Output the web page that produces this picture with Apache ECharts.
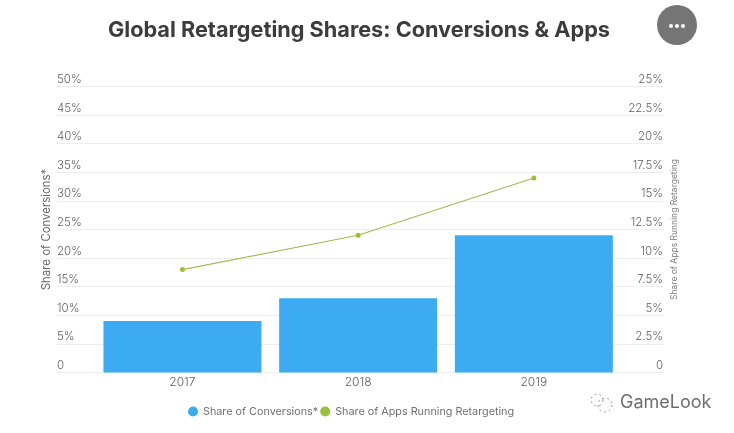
<!DOCTYPE html>
<html>
<head>
<meta charset="utf-8">
<title>Global Retargeting Shares</title>
<style>
  html, body { margin: 0; padding: 0; background: #fff; }
  #chart { width: 734px; height: 433px; }
</style>
<script src="https://cdn.jsdelivr.net/npm/echarts@6/dist/echarts.min.js"></script>
</head>
<body>
<div id="chart"></div>
<script>
var years = [2017, 2018, 2019];
var conversions = [9, 13, 24];
var appsRetargeting = [9, 12, 17];

var conversionsName = 'Share of Conversions*';
var appsName = 'Share of Apps Running Retargeting';
var FONT = 'Inter, "Open Sans", sans-serif';

var chart = echarts.init(document.getElementById('chart'));

function pairs(values) {
  return values.map(function (v, i) { return [years[i], v]; });
}

chart.setOption({
  animation: false,
  backgroundColor: '#ffffff',
  textStyle: { fontFamily: FONT },
  title: {
    text: 'Global Retargeting Shares: Conversions & Apps',
    left: 354,
    top: 14,
    textAlign: 'center',
    textStyle: { fontFamily: FONT, fontSize: 21.7, fontWeight: 700, color: '#3c3c3c' }
  },
  legend: {
    left: 183,
    top: 401,
    itemWidth: 10,
    itemHeight: 10,
    itemGap: 2,
    icon: 'circle',
    textStyle: { fontFamily: FONT, fontSize: 10.8, color: '#707070' },
    data: [conversionsName, appsName]
  },
  grid: { left: 57, right: 71, top: 86.5, bottom: 60.5 },
  xAxis: {
    type: 'value',
    min: 2016.286,
    max: 2019.735,
    splitLine: { show: false },
    axisTick: { show: false },
    axisLine: { show: true, lineStyle: { color: '#eeeeee' } },
    axisLabel: {
      customValues: years,
      formatter: function (v) { return String(v); },
      fontSize: 12,
      fontWeight: 300,
      color: '#606060',
      margin: 4
    }
  },
  yAxis: [
    {
      type: 'value',
      min: 0,
      max: 50,
      interval: 5,
      name: conversionsName,
      nameLocation: 'middle',
      nameGap: 5,
      nameMoveOverlap: false,
      nameTextStyle: { fontFamily: FONT, fontSize: 11.4, color: '#6a6a6a' },
      axisLine: { show: false },
      axisTick: { show: false },
      splitLine: { lineStyle: { color: '#eeeeee' } },
      axisLabel: {
        inside: true,
        margin: 0,
        verticalAlign: 'bottom',
        lineHeight: 14,
        fontSize: 11.5,
        fontWeight: 300,
        color: '#606060',
        formatter: function (v) { return v === 0 ? '0' : v + '%'; }
      }
    },
    {
      type: 'value',
      min: 0,
      max: 25,
      interval: 2.5,
      name: appsName,
      nameLocation: 'middle',
      nameGap: 7,
      nameMoveOverlap: false,
      nameTextStyle: { fontFamily: FONT, fontSize: 8.5, color: '#7a7a7a' },
      axisLine: { show: false },
      axisTick: { show: false },
      splitLine: { show: false },
      axisLabel: {
        inside: true,
        margin: 0,
        verticalAlign: 'bottom',
        lineHeight: 14,
        fontSize: 11.5,
        fontWeight: 300,
        color: '#606060',
        formatter: function (v) { return v === 0 ? '0' : v + '%'; }
      }
    }
  ],
  series: [
    {
      name: conversionsName,
      type: 'bar',
      yAxisIndex: 0,
      barWidth: 158,
      itemStyle: { color: '#3cabf3' },
      data: pairs(conversions)
    },
    {
      name: appsName,
      type: 'line',
      yAxisIndex: 1,
      symbol: 'circle',
      symbolSize: 5,
      lineStyle: { color: '#a3bb54', width: 1.2 },
      itemStyle: { color: '#9bbd3c' },
      data: pairs(appsRetargeting)
    }
  ],
  graphic: [
    { type: 'circle', shape: { cx: 677, cy: 25, r: 20 }, style: { fill: '#757575' } },
    { type: 'circle', shape: { cx: 671, cy: 26, r: 2 }, style: { fill: '#ffffff' } },
    { type: 'circle', shape: { cx: 677, cy: 26, r: 2 }, style: { fill: '#ffffff' } },
    { type: 'circle', shape: { cx: 683, cy: 26, r: 2 }, style: { fill: '#ffffff' } },
    // watermark
    { type: 'circle', shape: { cx: 597, cy: 400, r: 6 }, style: { fill: 'none', stroke: '#999999', lineWidth: 1, lineDash: [2, 3] } },
    { type: 'circle', shape: { cx: 605, cy: 405, r: 7 }, style: { fill: 'none', stroke: '#999999', lineWidth: 1, lineDash: [2, 3] } },
    { type: 'text', style: { x: 620, y: 403, text: 'GameLook', fontFamily: FONT, fontSize: 18, fill: '#6e6e6e', textVerticalAlign: 'middle' } }
  ]
});
</script>
</body>
</html>
